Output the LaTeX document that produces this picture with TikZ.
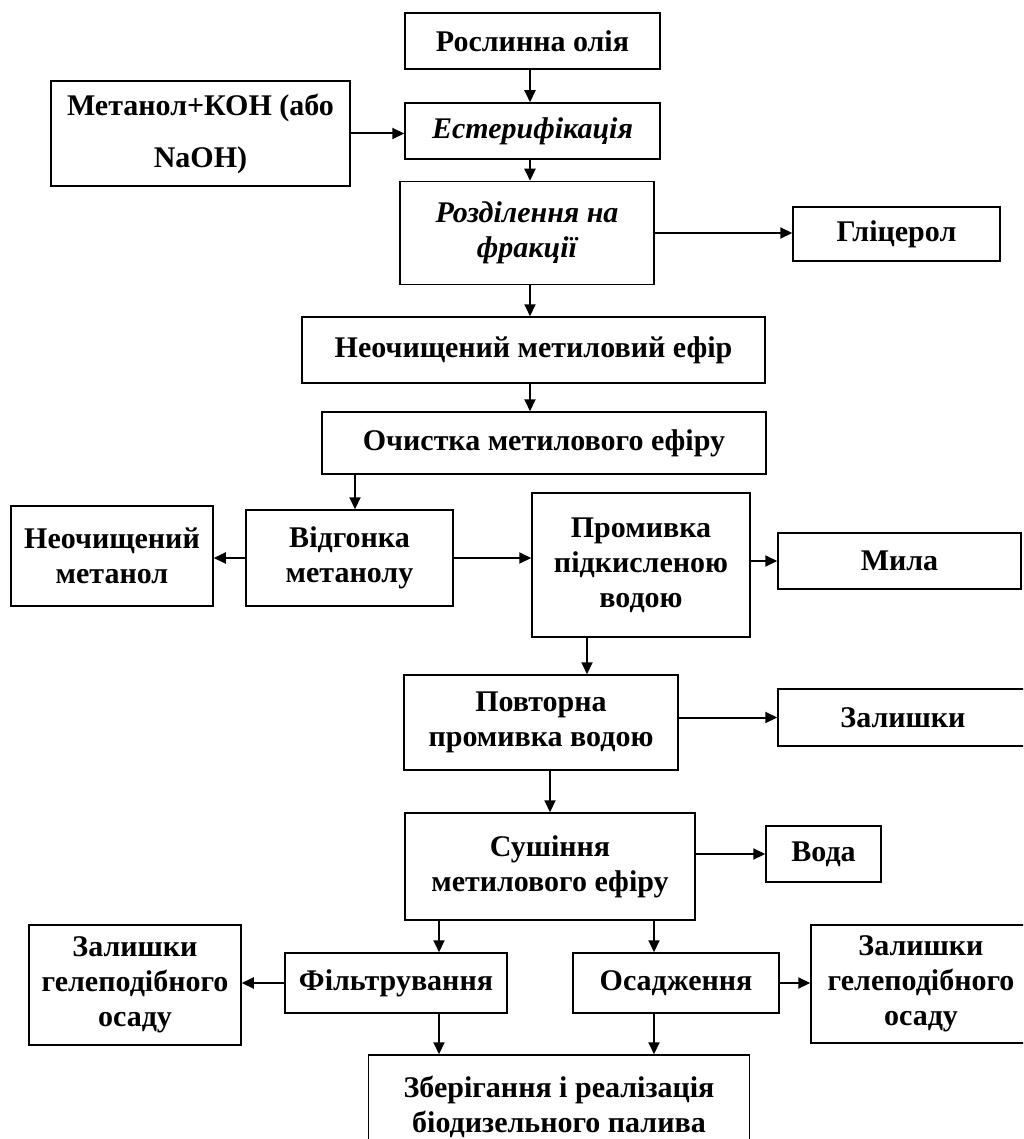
\documentclass[tikz,border=0pt]{standalone}
\usepackage{fontspec}
\setmainfont{Liberation Serif}
\usetikzlibrary{arrows.meta}

\begin{document}
\begin{tikzpicture}[x=0.5pt,y=-0.5pt,
    box/.style={draw, line width=0.75pt, inner sep=0pt, align=center,
      font=\fontsize{15}{17.5}\selectfont\bfseries},
    itbox/.style={box, font=\fontsize{15}{17.5}\selectfont\bfseries\itshape},
    boxsize/.style 2 args={minimum width=#1*0.5pt, minimum height=#2*0.5pt},
    flow/.style={-{Triangle[length=6pt,width=5.5pt]}, line width=1pt}]
  \clip (0,0) rectangle (1023,1139);

  % main column and side boxes
  \node[box, boxsize={255}{56}] (oil) at (532.5,41) {Рослинна олія};
  \node[box, boxsize={299}{105}] (meth) at (200.5,133.5) {Метанол+КОН (або\\[8.5pt]NaOH)};
  \node[itbox, boxsize={255}{56}] (ester) at (532.5,131) {Естерифікація};
  \node[itbox, boxsize={254}{103}] (sep) at (527,233) {Розділення на\\фракції};
  \node[box, boxsize={207}{54}] (glyc) at (896.5,234) {Гліцерол};
  \node[box, boxsize={463}{66}] (crude) at (533.5,350) {Неочищений метиловий ефір};
  \node[box, boxsize={444}{62}] (purif) at (544,443) {Очистка метилового ефіру};
  \node[box, boxsize={207}{96}] (distill) at (349.5,558) {Відгонка\\метанолу};
  \node[box, boxsize={202}{100}] (cmeth) at (112,556) {Неочищений\\метанол};
  \node[box, boxsize={218}{144}] (wash1) at (641,565) {Промивка\\підкисленою\\водою};
  \node[box, boxsize={243}{56}] (soaps) at (899.5,561) {Мила};
  \node[box, boxsize={274}{95}] (wash2) at (541,722.5) {Повторна\\промивка водою};
  \node[box, boxsize={250}{57}] (res) at (903,717.5) {Залишки};
  \node[box, boxsize={290}{107}] (dry) at (550,866.5) {Сушіння\\метилового ефіру};
  \node[box, boxsize={115}{56}] (water) at (823.5,854) {Вода};
  \node[box, boxsize={212}{120}] (gelA) at (135,985) {Залишки\\гелеподібного\\осаду};
  \node[box, boxsize={222}{60}] (filter) at (396,983) {Фільтрування};
  \node[box, boxsize={206}{60}] (settle) at (676,983) {Осадження};
  \node[box, boxsize={220}{118}] (gelB) at (921,984) {Залишки\\гелеподібного\\осаду};
  \node[box, boxsize={381}{104}] (store) at (559,1107) {Зберігання і реалізація\\біодизельного палива};

  % lines the vertical arrows run along
  \coordinate (mainx) at (530,0);
  \coordinate (distx) at (355,0);
  \coordinate (washx) at (587,0);
  \coordinate (dryx) at (550,0);
  \coordinate (filtx) at (439,0);
  \coordinate (settx) at (654,0);

  \foreach \a/\b/\c in {oil/ester/mainx, ester/sep/mainx, sep/crude/mainx, crude/purif/mainx,
      purif/distill/distx, wash1/wash2/washx, wash2/dry/dryx, dry/filter/filtx,
      dry/settle/settx, filter/store/filtx, settle/store/settx}
    \draw[flow] (\a.south -| \c) -- (\b.north -| \c);

  \foreach \a/\b in {meth/ester, sep/glyc, distill/wash1, settle/gelB}
    \draw[flow] (\a.east) -- (\a.east -| \b.west);
  \foreach \a/\b in {wash1/soaps, wash2/res, dry/water}
    \draw[flow] (\a.east |- \b.west) -- (\b.west);
  \draw[flow] (distill.west) -- (distill.west -| cmeth.east);
  \draw[flow] (filter.west) -- (filter.west -| gelA.east);
\end{tikzpicture}
\end{document}
